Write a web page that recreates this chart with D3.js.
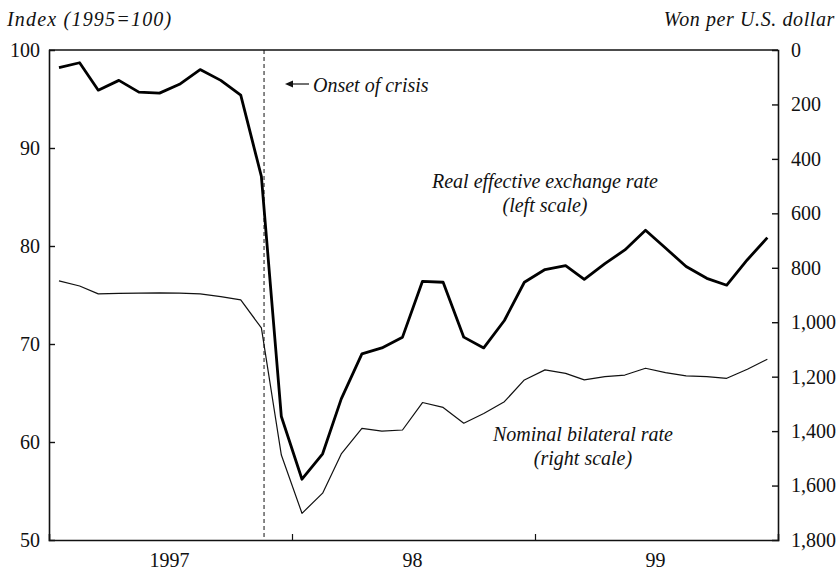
<!DOCTYPE html>
<html><head><meta charset="utf-8">
<script src="https://cdn.jsdelivr.net/npm/d3@7"></script>
<style>body{margin:0;background:#fff}svg{display:block}text{font-family:"Liberation Serif","DejaVu Serif",serif;fill:#111}</style>
</head><body><svg id="c" width="840" height="573"></svg>
<script>
const months = ["1997-01","1997-02","1997-03","1997-04","1997-05","1997-06","1997-07","1997-08","1997-09","1997-10","1997-11","1997-12",
"1998-01","1998-02","1998-03","1998-04","1998-05","1998-06","1998-07","1998-08","1998-09","1998-10","1998-11","1998-12",
"1999-01","1999-02","1999-03","1999-04","1999-05","1999-06","1999-07","1999-08","1999-09","1999-10","1999-11","1999-12"];
const reer = [98.2,98.7,95.9,96.9,95.7,95.6,96.5,98.0,96.9,95.4,87.1,62.6,
56.2,58.8,64.4,69.0,69.6,70.7,76.4,76.3,70.7,69.6,72.4,76.3,
77.6,78.0,76.6,78.2,79.6,81.6,79.8,77.9,76.7,76.0,78.6,80.85];
const nominal = [848,867,896,894,893,892,893,896,906,918,1021,1488,
1702,1628,1484,1390,1400,1396,1295,1313,1371,1335,1292,1212,
1175,1188,1212,1200,1194,1169,1185,1197,1200,1206,1173,1136];
const leftTicks = [50,60,70,80,90,100];
const rightTicks = [0,200,400,600,800,1000,1200,1400,1600,1800];
const yearLabels = [{year:1997,label:"1997"},{year:1998,label:"98"},{year:1999,label:"99"}];
const crisisDate = "1997-11-20";

const svg = d3.select("#c");
const L=49, R=778, T=50, B=540;
const parseM = d3.timeParse("%Y-%m");
const mid = s => { const d = parseM(s); return new Date(d.getFullYear(), d.getMonth(), 16); };
const x = d3.scaleTime().domain([new Date(1997,0,1), new Date(2000,0,1)]).range([L,R]);
const yL = d3.scaleLinear().domain([50,100]).range([B,T]);
const yR = d3.scaleLinear().domain([0,1800]).range([T,B]);

const g = svg.append("g");
g.append("line").attr("x1",L).attr("x2",R).attr("y1",T).attr("y2",T).attr("stroke","#111").attr("stroke-width",1.5);

const axL = g.append("g").attr("transform",`translate(${L},0)`)
  .call(d3.axisLeft(yL).tickValues(leftTicks).tickSize(-6).tickPadding(9));
const axR = g.append("g").attr("transform",`translate(${R},0)`)
  .call(d3.axisRight(yR).tickValues(rightTicks).tickSize(-6).tickPadding(13).tickFormat(d3.format(",")));
const axB = g.append("g").attr("transform",`translate(0,${B})`)
  .call(d3.axisBottom(x).tickValues([new Date(1998,0,1), new Date(1999,0,1)]).tickSize(-6).tickFormat(""));
[axL,axR,axB].forEach(a=>{
  a.attr("font-family",null).attr("font-size",null);
  a.select(".domain").attr("stroke","#111").attr("stroke-width",1.6);
  a.selectAll(".tick line").attr("stroke","#111").attr("stroke-width",1.4);
  a.selectAll(".tick text").style("font-size","20px").attr("fill","#111");
});
axL.selectAll(".tick").filter(d=>d===50||d===100).select("line").remove();
axR.selectAll(".tick").filter(d=>d===0||d===1800).select("line").remove();
axB.selectAll(".tick line").attr("stroke-width",1.2);

g.selectAll(".yl").data(yearLabels).enter().append("text")
  .attr("x",d=>x(new Date(d.year,6,1))).attr("y",567).attr("text-anchor","middle")
  .style("font-size","20px").text(d=>d.label);

const cx = x(d3.timeParse("%Y-%m-%d")(crisisDate));
g.append("line").attr("x1",cx).attr("x2",cx).attr("y1",T).attr("y2",B)
  .attr("stroke","#111").attr("stroke-width",1).attr("stroke-dasharray","4,3");

const lineL = d3.line().x((d,i)=>x(mid(months[i]))).y(d=>yL(d));
const lineR = d3.line().x((d,i)=>x(mid(months[i]))).y(d=>yR(d));
g.append("path").datum(nominal).attr("d",lineR).attr("fill","none").attr("stroke","#111").attr("stroke-width",1.2).attr("stroke-linejoin","round");
g.append("path").datum(reer).attr("d",lineL).attr("fill","none").attr("stroke","#000").attr("stroke-width",2.8).attr("stroke-linejoin","round");

const it = (t,xx,yy,anchor,ls)=>svg.append("text").attr("x",xx).attr("y",yy).attr("text-anchor",anchor||"start")
  .style("font-size","20px").style("font-style","italic").style("letter-spacing",ls||"0px").text(t);
it("Index (1995=100)",7,26,"start","1.2px");
it("Won per U.S. dollar",835,26,"end","0.6px");
it("Onset of crisis",313,92);
svg.append("line").attr("x1",309).attr("x2",291).attr("y1",84).attr("y2",84).attr("stroke","#111").attr("stroke-width",1.2);
svg.append("path").attr("d","M285,84 L293,80.5 L293,87.5 Z").attr("fill","#111");
it("Real effective exchange rate",545,188,"middle");
it("(left scale)",545,212,"middle");
it("Nominal bilateral rate",583,441,"middle");
it("(right scale)",583,465,"middle");
</script></body></html>
